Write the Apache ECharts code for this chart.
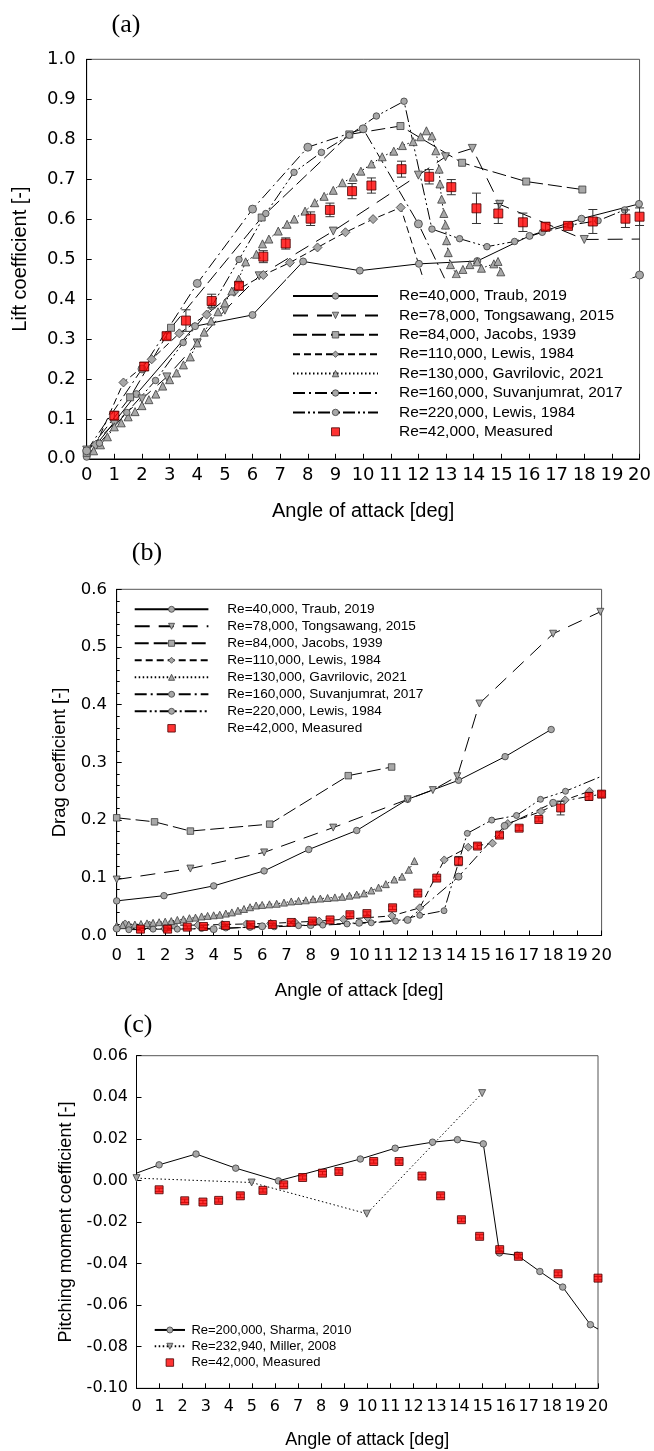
<!DOCTYPE html>
<html><head><meta charset="utf-8">
<script src="https://cdn.jsdelivr.net/npm/echarts@6/dist/echarts.min.js"></script>
<style>html,body{margin:0;padding:0;background:#fff}#c{width:654px;height:1451px}</style>
</head><body><div id="c"></div>
<script>
// ---------- Names ----------
const nTraub = 'Re=40,000, Traub, 2019';
const nTong = 'Re=78,000, Tongsawang, 2015';
const nJacobs = 'Re=84,000, Jacobs, 1939';
const nLewis110 = 'Re=110,000, Lewis, 1984';
const nGavr = 'Re=130,000, Gavrilovic, 2021';
const nSuv = 'Re=160,000, Suvanjumrat, 2017';
const nLewis220 = 'Re=220,000, Lewis, 1984';
const nMeas = 'Re=42,000, Measured';
const nSharma = 'Re=200,000, Sharma, 2010';
const nMiller = 'Re=232,940, Miller, 2008';

// ---------- (a) Lift coefficient ----------
const liftTraub = [[0,0.005],[1.8,0.162],[3.92,0.332],[6.0,0.36],[7.83,0.494],[9.88,0.471],[12.02,0.488],[14.13,0.495],[16.02,0.558],[17.9,0.601],[19.98,0.638]];
const liftTong = [[0,0.022],[1,0.088],[2,0.15],[2.9,0.205],[4,0.29],[5,0.372],[6.24,0.458],[8.92,0.57],[12.0,0.71],[12.98,0.756],[13.95,0.777],[14.94,0.637],[18.0,0.549],[20.0,0.55]];
const liftJacobs = [[0,0.015],[1.57,0.154],[3.05,0.328],[6.33,0.604],[9.5,0.812],[11.35,0.833],[13.58,0.741],[15.9,0.694],[17.93,0.674]];
const liftLewis110 = [[0.33,0.035],[1.33,0.191],[2.35,0.249],[3.35,0.314],[4.34,0.361],[5.33,0.418],[6.39,0.46],[7.35,0.491],[8.35,0.529],[9.36,0.567],[10.36,0.6],[11.36,0.629],[12.5,0.38]];
const liftGavr = [[0.25,0.02],[0.5,0.035],[0.75,0.055],[1.0,0.08],[1.25,0.09],[1.5,0.105],[1.75,0.118],[2.0,0.133],[2.25,0.148],[2.5,0.162],[2.75,0.182],[3.0,0.198],[3.25,0.215],[3.5,0.235],[3.75,0.255],[4.0,0.29],[4.25,0.317],[4.5,0.345],[4.75,0.368],[5.0,0.39],[5.25,0.42],[5.5,0.45],[5.75,0.493],[6.14,0.512],[6.36,0.538],[6.59,0.55],[6.93,0.57],[7.25,0.587],[7.51,0.6],[7.9,0.62],[8.25,0.641],[8.59,0.657],[8.92,0.672],[9.25,0.691],[9.64,0.705],[9.92,0.72],[10.3,0.738],[10.69,0.756],[11.11,0.77],[11.42,0.784],[11.81,0.794],[12.08,0.806],[12.29,0.821],[12.49,0.808],[12.63,0.771],[12.75,0.725],[12.78,0.688],[12.84,0.65],[12.92,0.614],[12.98,0.585],[13.02,0.546],[13.08,0.516],[13.16,0.486],[13.37,0.463],[13.61,0.474],[13.86,0.486],[14.13,0.493],[14.28,0.477],[14.73,0.488],[14.88,0.494],[14.98,0.468]];
const liftSuv = [[0,0.02],[2,0.225],[4,0.439],[6,0.625],[8,0.78],[10,0.826],[12,0.588],[14,0.3],[16,0.34],[18,0.4],[20,0.46]];
const liftLewis220 = [[0.46,0.039],[1.45,0.116],[2.49,0.196],[3.49,0.291],[4.52,0.381],[5.51,0.499],[6.48,0.614],[7.5,0.717],[8.49,0.767],[9.5,0.81],[10.48,0.858],[11.48,0.895],[12.49,0.575],[13.49,0.551],[14.48,0.531],[15.48,0.544],[16.48,0.567],[17.5,0.585],[18.5,0.596],[19.46,0.623]];
const liftMeas = [[1.0,0.108],[2.08,0.231],[2.89,0.307],[3.59,0.346],[4.52,0.395],[5.51,0.433],[6.39,0.506],[7.2,0.539],[8.1,0.601],[8.8,0.623],[9.6,0.67],[10.3,0.684],[11.39,0.725],[12.39,0.706],[13.19,0.68],[14.1,0.627],[14.89,0.614],[15.78,0.592],[16.6,0.581],[17.41,0.583],[18.31,0.594],[19.49,0.601],[20.0,0.606]];
const liftErr = [0.01,0.01,0.008,0.027,0.017,0.01,0.015,0.014,0.017,0.017,0.019,0.019,0.02,0.018,0.019,0.038,0.025,0.023,0.01,0.005,0.03,0.022,0.022];

// ---------- (b) Drag coefficient ----------
const dragTraub = [[0,0.06],[1.95,0.069],[4.0,0.086],[6.08,0.112],[7.92,0.149],[9.9,0.182],[12.0,0.236],[14.1,0.269],[16.02,0.31],[17.92,0.357]];
const dragTong = [[0,0.097],[3.04,0.116],[6.08,0.144],[8.93,0.187],[12.0,0.236],[13.04,0.252],[14.05,0.276],[14.96,0.402],[18.0,0.523],[19.95,0.561]];
const dragJacobs = [[0,0.204],[1.56,0.197],[3.04,0.181],[6.31,0.193],[9.55,0.277],[11.34,0.292]];
const dragLewis110 = [[0.35,0.02],[1.35,0.018],[2.35,0.018],[3.35,0.018],[4.35,0.019],[5.35,0.02],[6.35,0.021],[7.35,0.023],[8.35,0.025],[9.35,0.028],[10.35,0.031],[11.35,0.034],[12.5,0.048],[13.51,0.131],[14.5,0.153],[15.5,0.16],[16.13,0.194],[17.5,0.215],[18.5,0.235],[19.5,0.25]];
const dragGavr = [[0,0.017],[0.25,0.018],[0.5,0.019],[0.75,0.019],[1.0,0.02],[1.25,0.021],[1.5,0.022],[1.75,0.023],[2.0,0.024],[2.25,0.025],[2.5,0.027],[2.75,0.028],[3.0,0.03],[3.25,0.031],[3.5,0.033],[3.75,0.034],[4.0,0.035],[4.25,0.036],[4.5,0.038],[4.75,0.04],[5.0,0.043],[5.25,0.046],[5.5,0.049],[5.75,0.052],[6.0,0.053],[6.3,0.054],[6.6,0.055],[6.9,0.057],[7.2,0.059],[7.5,0.06],[7.8,0.061],[8.1,0.063],[8.4,0.064],[8.7,0.065],[9.0,0.066],[9.3,0.067],[9.6,0.069],[9.9,0.071],[10.2,0.073],[10.5,0.078],[10.8,0.083],[11.1,0.089],[11.45,0.097],[11.77,0.102],[12.05,0.114],[12.28,0.129]];
const dragSuv = [[0,0.012],[2,0.012],[4,0.011],[6,0.016],[8,0.018],[10,0.022],[12,0.027],[14.1,0.102],[16,0.19],[18,0.23],[20,0.245]];
const dragLewis220 = [[0.5,0.01],[1.5,0.011],[2.5,0.011],[3.5,0.012],[4.5,0.013],[5.5,0.014],[6.5,0.015],[7.5,0.017],[8.5,0.018],[9.5,0.02],[10.5,0.022],[11.5,0.025],[12.5,0.035],[13.5,0.043],[14.46,0.177],[15.47,0.2],[16.49,0.208],[17.48,0.236],[18.51,0.25],[20,0.276]];
const dragMeas = [[0.98,0.011],[2.1,0.011],[2.91,0.0145],[3.58,0.0156],[4.49,0.0174],[5.53,0.0185],[6.42,0.019],[7.2,0.0226],[8.07,0.025],[8.8,0.027],[9.62,0.036],[10.32,0.038],[11.38,0.048],[12.42,0.0735],[13.2,0.0995],[14.1,0.129],[14.88,0.155],[15.79,0.174],[16.6,0.186],[17.41,0.201],[18.31,0.221],[19.48,0.241],[20.0,0.245]];
const dragErr = [0.002,0.002,0.002,0.002,0.002,0.002,0.002,0.002,0.002,0.002,0.003,0.003,0.003,0.003,0.003,0.008,0.004,0.004,0.004,0.003,0.012,0.007,0.005];

// ---------- (c) Pitching moment coefficient ----------
const momSharma = [[0,0.0035],[0.98,0.0075],[2.58,0.0127],[4.3,0.0059],[6.15,-0.0002],[9.7,0.0103],[11.21,0.0155],[12.83,0.0184],[13.91,0.0196],[15.03,0.0176],[15.73,-0.0349],[16.5,-0.036],[17.48,-0.0438],[18.47,-0.0513],[19.67,-0.0694],[20,-0.0715]];
const momMiller = [[0,0.0011],[4.99,-0.001],[9.98,-0.016],[14.98,0.042]];
const momMeas = [[0.98,-0.0045],[2.09,-0.0098],[2.88,-0.0104],[3.56,-0.0096],[4.5,-0.0074],[5.48,-0.0048],[6.38,-0.0021],[7.2,0.0014],[8.06,0.0035],[8.77,0.0043],[10.28,0.0091],[11.38,0.0091],[12.37,0.0021],[13.18,-0.0074],[14.08,-0.0189],[14.87,-0.0269],[15.74,-0.0333],[16.55,-0.0365],[18.27,-0.0449],[20.0,-0.047]];
const momErr = [0.0008,0.0008,0.0008,0.0008,0.0008,0.0008,0.0008,0.0008,0.0008,0.0008,0.0008,0.0008,0.0008,0.0008,0.0008,0.0008,0.0008,0.0008,0.0008,0.0008];

// ---------- builders ----------
const GREY = '#a8a8a8', EDGE = '#3c3c3c';
const SQUARE_ICON = 'path://M0,0L10,0L10,10L0,10Z';
function line(name, data, g, symbol, size, dash, opts) {
  opts = opts || {};
  const hide = opts.hide || [];
  return {
    type: 'line', name, xAxisIndex: g, yAxisIndex: g,
    data: data.map((p, i) => hide.includes(i) || (hide.includes(-1) && i === data.length - 1) ? {value: p, symbol: 'none'} : p),
    symbol, symbolSize: size, symbolRotate: opts.rot || 0, showSymbol: true,
    lineStyle: {color: '#000', width: 1, type: dash},
    itemStyle: {color: GREY, borderColor: EDGE, borderWidth: 0.8},
    emphasis: {disabled: true}, z: 2, animation: false
  };
}
function meas(data, g, size) {
  return {type: 'scatter', name: nMeas, xAxisIndex: g, yAxisIndex: g, data, symbol: 'rect', symbolSize: size,
    itemStyle: {color: '#ff0000', borderColor: '#4a0000', borderWidth: 1}, z: 5, animation: false, emphasis: {disabled: true}};
}
function errBars(data, errs, g, cap) {
  return {type: 'custom', xAxisIndex: g, yAxisIndex: g, z: 4, animation: false, silent: true,
    data: data.map((p, i) => [p[0], p[1] - errs[i], p[1] + errs[i]]),
    encode: {x: 0, y: [1, 2]},
    renderItem(params, api) {
      const x = api.value(0);
      const lo = api.coord([x, api.value(1)]);
      const hi = api.coord([x, api.value(2)]);
      const st = {stroke: '#333', lineWidth: 1};
      return {type: 'group', children: [
        {type: 'line', shape: {x1: lo[0], y1: lo[1], x2: hi[0], y2: hi[1]}, style: st},
        {type: 'line', shape: {x1: lo[0] - cap, y1: lo[1], x2: lo[0] + cap, y2: lo[1]}, style: st},
        {type: 'line', shape: {x1: hi[0] - cap, y1: hi[1], x2: hi[0] + cap, y2: hi[1]}, style: st}
      ]};
    }};
}
function xAx(g, fs, margin, nameGap, nameFs) {
  return {type: 'value', gridIndex: g, min: 0, max: 20, interval: 1,
    axisLine: {show: true, onZero: false, lineStyle: {color: '#000', width: 1}},
    axisTick: {show: true, inside: true, length: 5, lineStyle: {color: '#000'}},
    axisLabel: {fontSize: fs, fontFamily: 'DejaVu Sans', color: '#000', margin},
    splitLine: {show: false},
    name: 'Angle of attack [deg]', nameLocation: 'middle', nameGap,
    nameTextStyle: {fontSize: nameFs, fontFamily: 'Liberation Sans', color: '#000'}};
}
function yAx(g, min, max, iv, dec, fs, margin, name, nameGap, nameFs, minor) {
  const ax = {type: 'value', gridIndex: g, min, max, interval: iv,
    axisLine: {show: true, onZero: false, lineStyle: {color: '#000', width: 1}},
    axisTick: {show: true, inside: true, length: 5, lineStyle: {color: '#000'}},
    axisLabel: {fontSize: fs, fontFamily: 'DejaVu Sans', color: '#000', margin,
      formatter: v => (Math.abs(v) < 1e-9 ? 0 : v).toFixed(dec)},
    splitLine: {show: false},
    name, nameLocation: 'middle', nameGap,
    nameTextStyle: {fontSize: nameFs, fontFamily: 'Liberation Sans', color: '#000'}};
  if (minor) ax.minorTick = {show: true, splitNumber: 5, length: 3, lineStyle: {color: '#000'}};
  return ax;
}
const measLegend = {name: nMeas, icon: SQUARE_ICON, itemStyle: {color: '#ff0000', borderColor: '#4a0000', borderWidth: 1}};
const legNames = [nTraub, nTong, nJacobs, nLewis110, nGavr, nSuv, nLewis220, measLegend];
const legItemStyle = {color: GREY, borderColor: EDGE, borderWidth: 0.8};

const option = {
  backgroundColor: '#fff',
  animation: false,
  grid: [
    {left: 86.7, top: 59.3, width: 553.3, height: 399.5, show: true, borderColor: '#555', borderWidth: 1},
    {left: 116.7, top: 589.3, width: 484.9, height: 346.2, show: true, borderColor: '#555', borderWidth: 1},
    {left: 136.5, top: 1055.7, width: 461.5, height: 332.6, show: true, borderColor: '#555', borderWidth: 1}
  ],
  xAxis: [xAx(0, 18, 8, 43, 20), xAx(1, 16.5, 12, 45.5, 18.5), xAx(2, 16, 10.5, 43, 18)],
  yAxis: [
    yAx(0, 0, 1, 0.1, 1, 18, 11, 'Lift coefficient [-]', 56, 20, false),
    yAx(1, 0, 0.6, 0.1, 1, 16.5, 9.7, 'Drag coefficient [-]', 40, 18.5, true),
    yAx(2, -0.1, 0.06, 0.02, 2, 16, 8.5, 'Pitching moment coefficient [-]', 61, 18, false)
  ],
  legend: [
    {orient: 'vertical', left: 286, top: 278.3, padding: [8, 14, 8, 6], backgroundColor: '#fff', z: 10,
      itemWidth: 85, itemHeight: 8, itemGap: 0, selectedMode: false, symbolKeepAspect: true, data: legNames,
      itemStyle: legItemStyle,
      textStyle: {fontSize: 15.5, fontFamily: 'Liberation Sans', color: '#000', lineHeight: 19.4, padding: [0, 0, 0, 16]}},
    {orient: 'vertical', left: 133.7, top: 600.8, padding: 0, z: 10,
      itemWidth: 73.7, itemHeight: 7.5, itemGap: 0, selectedMode: false, symbolKeepAspect: true, data: legNames,
      itemStyle: legItemStyle,
      textStyle: {fontSize: 13.6, fontFamily: 'Liberation Sans', color: '#000', lineHeight: 17, padding: [0, 0, 0, 13.9]}},
    {orient: 'vertical', left: 153.7, top: 1321.8, padding: 0, z: 10,
      itemWidth: 30.3, itemHeight: 7.5, itemGap: 0, selectedMode: false, symbolKeepAspect: true, data: [nSharma, nMiller, measLegend],
      itemStyle: legItemStyle,
      textStyle: {fontSize: 13, fontFamily: 'Liberation Sans', color: '#000', lineHeight: 16.3, padding: [0, 0, 0, 1.4]}}
  ],
  graphic: [
    {type: 'text', x: 126, y: 25, style: {text: '(a)', font: '26px "Liberation Serif"', fill: '#000', align: 'center', verticalAlign: 'middle'}},
    {type: 'text', x: 147, y: 553, style: {text: '(b)', font: '26px "Liberation Serif"', fill: '#000', align: 'center', verticalAlign: 'middle'}},
    {type: 'text', x: 138, y: 1025, style: {text: '(c)', font: '26px "Liberation Serif"', fill: '#000', align: 'center', verticalAlign: 'middle'}}
  ],
  series: [
    // (a)
    line(nTraub, liftTraub, 0, 'circle', 7, 'solid'),
    line(nTong, liftTong, 0, 'triangle', 8, [15, 9], {rot: 180, hide: [-1]}),
    line(nJacobs, liftJacobs, 0, 'rect', 7, [14, 5]),
    line(nLewis110, liftLewis110, 0, 'diamond', 9, [7, 4], {hide: [-1]}),
    line(nGavr, liftGavr, 0, 'triangle', 8, [1.5, 2.5]),
    line(nSuv, liftSuv, 0, 'circle', 8, [12, 4, 2, 4]),
    line(nLewis220, liftLewis220, 0, 'circle', 6.5, [12, 3, 2, 3, 2, 3]),
    errBars(liftMeas, liftErr, 0, 4.5),
    meas(liftMeas, 0, 9),
    // (b)
    line(nTraub, dragTraub, 1, 'circle', 6.5, 'solid'),
    line(nTong, dragTong, 1, 'triangle', 7, [15, 9], {rot: 180}),
    line(nJacobs, dragJacobs, 1, 'rect', 6.5, [14, 5]),
    line(nLewis110, dragLewis110, 1, 'diamond', 8, [7, 4]),
    line(nGavr, dragGavr, 1, 'triangle', 7, [1.5, 2.5]),
    line(nSuv, dragSuv, 1, 'circle', 7, [12, 4, 2, 4]),
    line(nLewis220, dragLewis220, 1, 'circle', 6, [12, 3, 2, 3, 2, 3], {hide: [-1]}),
    errBars(dragMeas, dragErr, 1, 4),
    meas(dragMeas, 1, 8),
    // (c)
    line(nSharma, momSharma, 2, 'circle', 6.5, 'solid', {hide: [0, -1]}),
    line(nMiller, momMiller, 2, 'triangle', 7, [1.5, 2.5], {rot: 180}),
    errBars(momMeas, momErr, 2, 4),
    meas(momMeas, 2, 8)
  ]
};
const chart = echarts.init(document.getElementById('c'), null, {renderer: 'canvas'});
chart.setOption(option);
</script></body></html>
